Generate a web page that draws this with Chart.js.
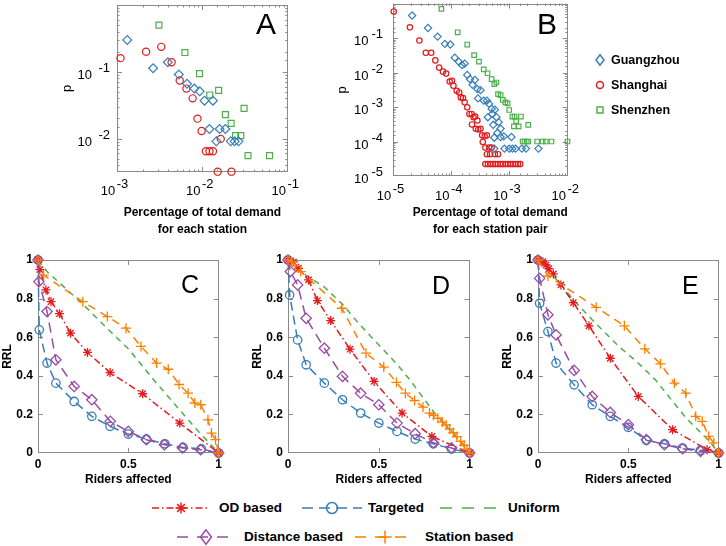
<!DOCTYPE html>
<html>
<head>
<meta charset="utf-8">
<script src="https://cdn.jsdelivr.net/npm/chart.js@4.4.1/dist/chart.umd.min.js"></script>
<style>
  html, body { margin: 0; padding: 0; background: #fff; }
  #page { position: relative; width: 726px; height: 546px; overflow: hidden; font-family: "Liberation Sans", Arial, sans-serif; }
  #page canvas { position: absolute; }
  .letter { position: absolute; line-height: 1; color: #000; }
  .leg { position: absolute; white-space: nowrap; color: #000; font-weight: bold; }
</style>
</head>
<body>
<div id="page"></div>
<script>
// --- panel A : distribution of demand per station ---
const aGzX = [1.32e-3, 2.65e-3, 3.94e-3, 5.3e-3, 6.6e-3, 8.05e-3, 9.3e-3, 1.06e-2, 1.33e-2, 1.21e-2, 1.59e-2, 1.86e-2, 1.46e-2, 2.15e-2, 2.39e-2, 2.65e-2];
const aGzP = [0.30, 0.113, 0.139, 0.091, 0.066, 0.056, 0.051, 0.037, 0.037, 0.0139, 0.0139, 0.0139, 0.0091, 0.0091, 0.0091, 0.0091];
const aShX = [1.10e-3, 2.19e-3, 3.30e-3, 4.36e-3, 5.43e-3, 6.5e-3, 7.69e-3, 8.77e-3, 9.8e-3, 1.10e-2, 1.21e-2, 1.33e-2, 1.64e-2, 1.51e-2, 2.19e-2];
const aShP = [0.16, 0.20, 0.236, 0.139, 0.074, 0.056, 0.040, 0.0199, 0.0130, 0.00647, 0.00647, 0.00647, 0.0099, 0.0032, 0.0032];
const aSzX = [3.10e-3, 6.24e-3, 9.25e-3, 1.22e-2, 1.55e-2, 1.86e-2, 2.17e-2, 2.45e-2, 2.82e-2, 3.08e-2, 3.42e-2, 6.12e-2];
const aSzP = [0.50, 0.194, 0.094, 0.045, 0.0526, 0.0228, 0.0169, 0.0111, 0.0111, 0.0284, 0.00557, 0.00557];

// --- panel B : distribution of demand per station pair ---
const bGzX = [2.13e-5, 3.99e-5, 5.82e-5, 7.78e-5, 9.64e-5, 1.15e-4, 1.35e-4, 1.53e-4, 1.70e-4, 1.88e-4,
  2.10e-4, 2.54e-4, 2.32e-4, 2.81e-4, 3.18e-4, 2.88e-4, 3.61e-4, 4.09e-4, 4.47e-4, 4.94e-4,
  5.61e-4, 4.25e-4, 5.07e-4, 5.97e-4, 6.52e-4, 5.26e-4, 7.03e-4, 6.20e-4, 5.47e-4, 7.03e-4,
  7.97e-4, 1.08e-3, 5.47e-4, 8.18e-4, 9.88e-4, 1.12e-3, 1.27e-3, 1.63e-3, 1.92e-3, 3.14e-3];
const bGzP = [0.45, 0.195, 0.110, 0.0678, 0.0649, 0.0269, 0.0206, 0.0165, 0.0181, 0.00853,
  0.00641, 0.00613, 0.0044, 0.00331, 0.00309, 0.00178, 0.00153, 0.00153, 0.00123, 8.8e-4,
  8.4e-4, 5.07e-4, 6.3e-4, 5.07e-4, 3.64e-4, 3.05e-4, 2.34e-4, 1.76e-4, 1.29e-4, 1.35e-4,
  1.41e-4, 1.35e-4, 6.24e-5, 6.24e-5, 6.24e-5, 6.24e-5, 6.24e-5, 6.24e-5, 6.24e-5, 6.24e-5];
const bShX = [1.03e-5, 1.95e-5, 2.84e-5, 3.66e-5, 4.53e-5, 5.33e-5, 6.2e-5, 7.21e-5, 8.18e-5, 9.4e-5,
  1.03e-4, 1.09e-4, 1.24e-4, 1.37e-4, 1.46e-4, 1.59e-4, 1.70e-4, 1.88e-4, 2.05e-4, 2.24e-4,
  2.41e-4, 2.57e-4, 2.81e-4, 2.27e-4, 2.64e-4, 2.91e-4, 3.18e-4, 3.39e-4, 3.75e-4, 4.09e-4,
  3.48e-4, 3.85e-4, 4.47e-4, 4.94e-4, 4.09e-4, 4.64e-4, 5.61e-4, 6.36e-4,
  3.85e-4, 4.25e-4, 4.7e-4, 5.2e-4, 5.7e-4, 6.3e-4, 7.0e-4, 7.7e-4, 8.5e-4, 9.4e-4,
  1.04e-3, 1.15e-3, 1.27e-3, 1.4e-3, 1.53e-3];
const bShP = [0.59, 0.204, 0.0846, 0.0374, 0.0374, 0.0225, 0.0139, 0.0106, 0.00932, 0.00549,
  0.00574, 0.00412, 0.00296, 0.00265, 0.0019, 0.00182, 0.00137, 9.8e-4, 6.3e-4, 6.3e-4,
  5.07e-4, 5.3e-4, 4.07e-4, 3.12e-4, 2.34e-4, 2.24e-4, 2.34e-4, 1.51e-4, 1.41e-4, 1.51e-4,
  9.7e-5, 6.67e-5, 6.67e-5, 6.67e-5, 4.29e-5, 4.29e-5, 4.29e-5, 4.29e-5,
  2.21e-5, 2.21e-5, 2.21e-5, 2.21e-5, 2.21e-5, 2.21e-5, 2.21e-5, 2.21e-5, 2.21e-5, 2.21e-5,
  2.21e-5, 2.21e-5, 2.21e-5, 2.21e-5, 2.21e-5];
const bSzX = [6.77e-5, 1.29e-4, 1.88e-4, 2.47e-4, 2.99e-4, 3.61e-4, 4.20e-4, 4.94e-4, 5.47e-4, 5.97e-4,
  6.36e-4, 7.03e-4, 7.67e-4, 8.49e-4, 9.27e-4, 9.88e-4, 1.12e-3, 1.22e-3, 1.30e-3, 1.19e-3,
  1.44e-3, 1.57e-3, 2.10e-3, 1.68e-3, 1.81e-3, 1.97e-3, 2.10e-3, 2.99e-3, 3.70e-3, 4.20e-3,
  5.26e-3, 9.9e-3];
const bSzP = [0.70, 0.147, 0.0649, 0.0321, 0.0206, 0.0124, 0.00953, 0.00641, 0.0046, 0.00514,
  0.00237, 0.00222, 0.0016, 0.00137, 0.00128, 8.2e-4, 5.3e-4, 5.3e-4, 3.89e-4, 2.74e-4,
  2.74e-4, 5.3e-4, 3.05e-4, 1e-4, 1e-4, 1e-4, 1e-4, 1e-4, 1e-4, 1e-4,
  1e-4, 1e-4];

// --- panel C ---
const cOdX = [0, 0.01, 0.044, 0.072, 0.119, 0.18, 0.274, 0.399, 0.579, 0.785, 1];
const cOdY = [1, 0.95, 0.845, 0.784, 0.722, 0.621, 0.521, 0.417, 0.307, 0.155, 0];
const cTgX = [0, 0.007, 0.05, 0.099, 0.2, 0.298, 0.399, 0.5, 0.6, 0.702, 0.803, 0.904, 1];
const cTgY = [1, 0.638, 0.466, 0.362, 0.267, 0.19, 0.138, 0.098, 0.072, 0.048, 0.029, 0.021, 0];
const cUnX = [0, 0.05, 0.25, 0.4, 0.5, 0.64, 0.75, 0.88, 1];
const cUnY = [1, 0.94, 0.77, 0.63, 0.54, 0.38, 0.26, 0.12, 0];
const cDsX = [0, 0.005, 0.05, 0.099, 0.2, 0.298, 0.4, 0.5, 0.6, 0.7, 0.8, 0.9, 1];
const cDsY = [1, 0.888, 0.733, 0.483, 0.345, 0.276, 0.164, 0.112, 0.069, 0.043, 0.026, 0.017, 0];
const cStX = [0, 0.031, 0.248, 0.384, 0.487, 0.57, 0.656, 0.721, 0.781, 0.831, 0.868, 0.901, 0.941, 0.96, 0.983, 1];
const cStY = [1, 0.922, 0.784, 0.707, 0.647, 0.552, 0.466, 0.434, 0.355, 0.31, 0.259, 0.25, 0.172, 0.103, 0.069, 0];

// --- panel D ---
const dOdX = [0, 0.03, 0.058, 0.113, 0.162, 0.235, 0.341, 0.474, 0.628, 0.792, 1];
const dOdY = [1, 0.99, 0.957, 0.897, 0.79, 0.686, 0.538, 0.371, 0.207, 0.086, 0];
const dTgX = [0, 0.009, 0.053, 0.1, 0.2, 0.3, 0.4, 0.5, 0.6, 0.7, 0.8, 0.9, 1];
const dTgY = [1, 0.819, 0.586, 0.457, 0.362, 0.276, 0.207, 0.155, 0.112, 0.072, 0.048, 0.021, 0];
const dUnX = [0, 0.1, 0.2, 0.3, 0.4, 0.5, 0.6, 0.67, 0.8, 0.9, 1];
const dUnY = [1, 0.92, 0.86, 0.77, 0.66, 0.56, 0.46, 0.38, 0.215, 0.11, 0];
const dDsX = [0, 0.013, 0.053, 0.1, 0.2, 0.3, 0.4, 0.5, 0.6, 0.7, 0.8, 0.9, 1];
const dDsY = [1, 0.94, 0.871, 0.698, 0.543, 0.397, 0.31, 0.25, 0.155, 0.1, 0.053, 0.026, 0];
const dStX = [0, 0.02, 0.04, 0.07, 0.296, 0.429, 0.527, 0.597, 0.646, 0.697, 0.743, 0.779, 0.8, 0.825, 0.85, 0.87, 0.89, 0.91, 0.93, 0.95, 0.97, 0.985, 1];
const dStY = [1, 0.99, 0.97, 0.94, 0.75, 0.517, 0.445, 0.366, 0.31, 0.272, 0.238, 0.207, 0.195, 0.18, 0.16, 0.145, 0.125, 0.105, 0.085, 0.06, 0.04, 0.02, 0];

// --- panel E ---
const eOdX = [0, 0.027, 0.045, 0.06, 0.085, 0.127, 0.195, 0.282, 0.4, 0.555, 0.745, 0.936, 1];
const eOdY = [1, 0.991, 0.974, 0.955, 0.928, 0.871, 0.779, 0.659, 0.491, 0.293, 0.121, 0.017, 0];
const eTgX = [0, 0.009, 0.055, 0.1, 0.2, 0.3, 0.4, 0.5, 0.6, 0.7, 0.8, 0.9, 1];
const eTgY = [1, 0.776, 0.629, 0.466, 0.353, 0.25, 0.19, 0.133, 0.066, 0.048, 0.026, 0.014, 0];
const eUnX = [0, 0.1, 0.2, 0.3, 0.45, 0.55, 0.65, 0.82, 0.95, 1];
const eUnY = [1, 0.9, 0.79, 0.69, 0.55, 0.47, 0.379, 0.181, 0.06, 0];
const eDsX = [0, 0.009, 0.055, 0.1, 0.2, 0.3, 0.4, 0.5, 0.6, 0.7, 0.8, 0.9, 1];
const eDsY = [1, 0.905, 0.716, 0.612, 0.428, 0.293, 0.21, 0.147, 0.069, 0.043, 0.022, 0.009, 0];
const eStX = [0, 0.055, 0.322, 0.478, 0.591, 0.678, 0.755, 0.818, 0.873, 0.909, 0.945, 0.973, 1];
const eStY = [1, 0.917, 0.755, 0.659, 0.54, 0.462, 0.362, 0.31, 0.19, 0.164, 0.086, 0.052, 0];

const FONT = '"Liberation Sans", Arial, sans-serif';
const RED = '#e41a1c', BLUE = '#377eb8', GREEN = '#4daf4a', PURPLE = '#984ea3', ORANGE = '#ff7f00';
const FRAME = '#8a8a8a';

const page = document.getElementById('page');

function pts(xs, ys) {
    return xs.map((x, i) => ({ x: x, y: ys[i] }));
}

function isPow10(v) {
    const e = Math.log10(v);
    return Math.abs(e - Math.round(e)) < 1e-6;
}

// "10" with a raised exponent, done as two overlapping lines
function powLabel(v, horizontal, gap) {
    if (!isPow10(v)) return '';
    const e = String(Math.round(Math.log10(v)));
    if (horizontal) return ['   ' + e, '10     '];
    return [e, '10' + ' '.repeat(gap)];
}

// box frame with inward ticks on all four sides
const boxTicks = {
    id: 'boxTicks',
    beforeDatasetsDraw(chart) {
        const { ctx, chartArea: a, scales } = chart;
        ctx.save();
        ctx.strokeStyle = FRAME;
        ctx.lineWidth = 1;
        ctx.strokeRect(Math.round(a.left) + 0.5, Math.round(a.top) + 0.5, Math.round(a.width) - 1, Math.round(a.height) - 1);
        ctx.beginPath();
        [scales.x, scales.y].forEach(s => {
            const isLog = s.type === 'logarithmic';
            s.ticks.forEach(t => {
                const major = !isLog || isPow10(t.value);
                const len = major ? 5 : 2.5;
                const p = Math.round(s.getPixelForValue(t.value)) + 0.5;
                if (s.isHorizontal()) {
                    if (p < a.left || p > a.right) return;
                    ctx.moveTo(p, a.bottom); ctx.lineTo(p, a.bottom - len);
                    ctx.moveTo(p, a.top); ctx.lineTo(p, a.top + len);
                } else {
                    if (p < a.top || p > a.bottom) return;
                    ctx.moveTo(a.left, p); ctx.lineTo(a.left + len, p);
                    ctx.moveTo(a.right, p); ctx.lineTo(a.right - len, p);
                }
            });
        });
        ctx.stroke();
        ctx.restore();
    }
};

function panel(box, plot, datasets, xScale, yScale) {
    const c = document.createElement('canvas');
    c.width = box.w;
    c.height = box.h;
    c.style.left = box.x + 'px';
    c.style.top = box.y + 'px';
    page.appendChild(c);
    const xH = box.y + box.h - plot.y - plot.h;
    const yW = plot.x - box.x;
    xScale.afterFit = s => { s.height = xH; };
    yScale.afterFit = s => { s.width = yW; };
    return new Chart(c, {
        type: 'scatter',
        data: { datasets: datasets },
        options: {
            responsive: false,
            animation: false,
            devicePixelRatio: 1,
            layout: { padding: { top: plot.y - box.y, right: box.x + box.w - plot.x - plot.w, left: 0, bottom: 0 } },
            plugins: { legend: { display: false }, tooltip: { enabled: false } },
            scales: { x: xScale, y: yScale }
        },
        plugins: [boxTicks]
    });
}

const NO_GRID = { display: false, drawTicks: false };

function logAxis(pos, min, max, pad, gap, title, titleFont) {
    const horizontal = pos === 'bottom';
    return {
        type: 'logarithmic', position: pos, min: min, max: max,
        grid: NO_GRID, border: { display: false },
        ticks: { autoSkip: false, maxRotation: 0, padding: pad, color: '#000',
                 font: { family: FONT, size: 13, lineHeight: 0.55 },
                 callback: v => powLabel(v, horizontal, gap) },
        title: { display: true, text: title, color: '#000', padding: 0, font: titleFont }
    };
}

function scat(xs, ys, color, style, r) {
    return { data: pts(xs, ys), showLine: false, clip: false, pointStyle: style, pointRadius: r,
             pointBorderColor: color, pointBackgroundColor: 'rgba(0,0,0,0)', pointBorderWidth: 1.2 };
}

const xTitleFont = { family: FONT, size: 12, weight: 'bold', lineHeight: 1.4 };
const yTitleFont = { family: FONT, size: 13, lineHeight: 1.2 };

// A
panel({ x: 60, y: -10, w: 253, h: 248 }, { x: 117, y: 5, w: 176, h: 167 },
    [scat(aGzX, aGzP, BLUE, 'rectRot', 4.4), scat(aShX, aShP, RED, 'circle', 3.6), scat(aSzX, aSzP, GREEN, 'rect', 4.2)],
    logAxis('bottom', 1e-3, 1e-1, 9, 0, ['Percentage of total demand', 'for each station'], xTitleFont),
    logAxis('left', Math.pow(10, -2.5), 0.999, 7, 5, 'p', yTitleFont));

// B
panel({ x: 335, y: -10, w: 259, h: 248 }, { x: 393, y: 2, w: 183, h: 174 },
    [scat(bGzX, bGzP, BLUE, 'rectRot', 3.6), scat(bShX, bShP, RED, 'circle', 2.7), scat(bSzX, bSzP, GREEN, 'rect', 3.2)],
    logAxis('bottom', 1e-5, 1e-2, 10, 0, ['      Percentage of total demand', '      for each station pair'], xTitleFont),
    logAxis('left', 1e-5, 0.999, 10, 4, 'p', yTitleFont));

// C, D, E
function curve(xs, ys, color, dash, style, r) {
    return { data: pts(xs, ys), showLine: true, clip: false, borderColor: color, borderWidth: 1.5,
             borderDash: dash, tension: 0, pointStyle: style, pointRadius: r,
             pointBorderColor: color, pointBackgroundColor: 'rgba(0,0,0,0)', pointBorderWidth: 1.3 };
}

const DASH_OD = [7, 3, 1.5, 3], DASH_TG = [9, 5], DASH_UN = [6, 5], DASH_DS = [10, 6], DASH_ST = [8, 6];

function plainNum(v) {
    return String(Number(v.toFixed(2)));
}

function rrlPanel(box, plot, s) {
    const ds = [
        curve(s.stX, s.stY, ORANGE, DASH_ST, 'cross', 5),
        curve(s.dsX, s.dsY, PURPLE, DASH_DS, 'rectRot', 5.2),
        curve(s.odX, s.odY, RED, DASH_OD, 'star', 4.5),
        curve(s.unX, s.unY, GREEN, DASH_UN, 'circle', 0),
        curve(s.tgX, s.tgY, BLUE, DASH_TG, 'circle', 4.2)
    ];
    const tickFont = { family: FONT, size: 12, weight: 'bold' };
    const titleFont = { family: FONT, size: 12, weight: 'bold', lineHeight: 1.2 };
    panel(box, plot, ds,
        { type: 'linear', min: 0, max: 1, grid: NO_GRID, border: { display: false },
          ticks: { stepSize: 0.5, padding: 4, color: '#000', maxRotation: 0, font: tickFont, callback: plainNum },
          title: { display: true, text: 'Riders affected', color: '#000', padding: 0, font: titleFont } },
        { type: 'linear', min: 0, max: 1, grid: NO_GRID, border: { display: false },
          ticks: { stepSize: 0.2, padding: 5, color: '#000', font: tickFont, callback: plainNum },
          title: { display: true, text: 'RRL', color: '#000', padding: 0, font: titleFont } });
}

rrlPanel({ x: 0, y: 245, w: 226, h: 242 }, { x: 38, y: 260, w: 181, h: 193 },
    { odX: cOdX, odY: cOdY, tgX: cTgX, tgY: cTgY, unX: cUnX, unY: cUnY, dsX: cDsX, dsY: cDsY, stX: cStX, stY: cStY });
rrlPanel({ x: 250, y: 245, w: 227, h: 242 }, { x: 288, y: 260, w: 182, h: 193 },
    { odX: dOdX, odY: dOdY, tgX: dTgX, tgY: dTgY, unX: dUnX, unY: dUnY, dsX: dDsX, dsY: dDsY, stX: dStX, stY: dStY });
rrlPanel({ x: 500, y: 245, w: 226, h: 242 }, { x: 538, y: 260, w: 184, h: 193 },
    { odX: eOdX, odY: eOdY, tgX: eTgX, tgY: eTgY, unX: eUnX, unY: eUnY, dsX: eDsX, dsY: eDsY, stX: eStX, stY: eStY });

// panel letters
[['A', 256, 9, 30], ['B', 537, 9, 30], ['C', 181, 272, 25], ['D', 432, 273, 25], ['E', 682, 273, 25]].forEach(([t, x, y, fs]) => {
    const d = document.createElement('div');
    d.className = 'letter';
    d.style.left = x + 'px';
    d.style.top = y + 'px';
    d.style.fontSize = fs + 'px';
    d.textContent = t;
    page.appendChild(d);
});

// legend markers
function marker(kind, cx, cy, color, r) {
    const s = 'stroke="' + color + '" stroke-width="1.5" fill="none"';
    if (kind === 'star') {
        const q = r * 0.7;
        return '<path d="M' + (cx - r) + ' ' + cy + 'H' + (cx + r) + 'M' + cx + ' ' + (cy - r) + 'V' + (cy + r) +
            'M' + (cx - q) + ' ' + (cy - q) + 'L' + (cx + q) + ' ' + (cy + q) + 'M' + (cx - q) + ' ' + (cy + q) + 'L' + (cx + q) + ' ' + (cy - q) + '" ' + s + '/>';
    }
    if (kind === 'circle') return '<circle cx="' + cx + '" cy="' + cy + '" r="' + r + '" ' + s + '/>';
    if (kind === 'diamond') return '<polygon points="' + cx + ',' + (cy - r * 1.3) + ' ' + (cx + r) + ',' + cy + ' ' + cx + ',' + (cy + r * 1.3) + ' ' + (cx - r) + ',' + cy + '" ' + s + '/>';
    if (kind === 'plus') return '<path d="M' + (cx - r) + ' ' + cy + 'H' + (cx + r) + 'M' + cx + ' ' + (cy - r) + 'V' + (cy + r) + '" ' + s + '/>';
    if (kind === 'square') return '<rect x="' + (cx - r) + '" y="' + (cy - r) + '" width="' + (2 * r) + '" height="' + (2 * r) + '" ' + s + '/>';
    return '';
}

function legendText(text, x, y, size) {
    const d = document.createElement('div');
    d.className = 'leg';
    d.style.left = x + 'px';
    d.style.top = (y - 10) + 'px';
    d.style.lineHeight = '20px';
    d.style.fontSize = size + 'px';
    d.textContent = text;
    page.appendChild(d);
}

// bottom legend
const legItems = [
    { x0: 152, x1: 210, y: 508, color: RED, dash: '7 3 1.5 3', mk: 'star', r: 5.5, text: 'OD based', tx: 219 },
    { x0: 302, x1: 362, y: 508, color: BLUE, dash: '11 6', mk: 'circle', r: 5.5, text: 'Targeted', tx: 368 },
    { x0: 440, x1: 498, y: 508, color: GREEN, dash: '12 10', mk: null, r: 0, text: 'Uniform', tx: 508 },
    { x0: 177, x1: 235, y: 537, color: PURPLE, dash: '11 9', mk: 'diamond', r: 5.5, text: 'Distance based', tx: 244 },
    { x0: 355, x1: 415, y: 537, color: ORANGE, dash: '11 9', mk: 'plus', r: 6.5, text: 'Station based', tx: 425 }
];
legItems.forEach(it => {
    const w = it.x1 - it.x0;
    const h = 20;
    let svg = '<svg style="position:absolute;left:' + it.x0 + 'px;top:' + (it.y - h / 2) + 'px" width="' + w + '" height="' + h + '">' +
        '<line x1="0" y1="' + h / 2 + '" x2="' + w + '" y2="' + h / 2 + '" stroke="' + it.color + '" stroke-width="1.5" stroke-dasharray="' + it.dash + '"/>';
    if (it.mk) svg += marker(it.mk, w / 2, h / 2, it.color, it.r);
    svg += '</svg>';
    page.insertAdjacentHTML('beforeend', svg);
    legendText(it.text, it.tx, it.y, 13.5);
});

// legend of panel B
[['diamond', BLUE, 4, 'Guangzhou', 60], ['circle', RED, 3.5, 'Shanghai', 85], ['square', GREEN, 3, 'Shenzhen', 110]].forEach(([mk, color, r, text, y]) => {
    page.insertAdjacentHTML('beforeend', '<svg style="position:absolute;left:591px;top:' + (y - 9) + 'px" width="18" height="18">' + marker(mk, 9, 9, color, r) + '</svg>');
    legendText(text, 611, y, 12.5);
});
</script>
</body>
</html>
